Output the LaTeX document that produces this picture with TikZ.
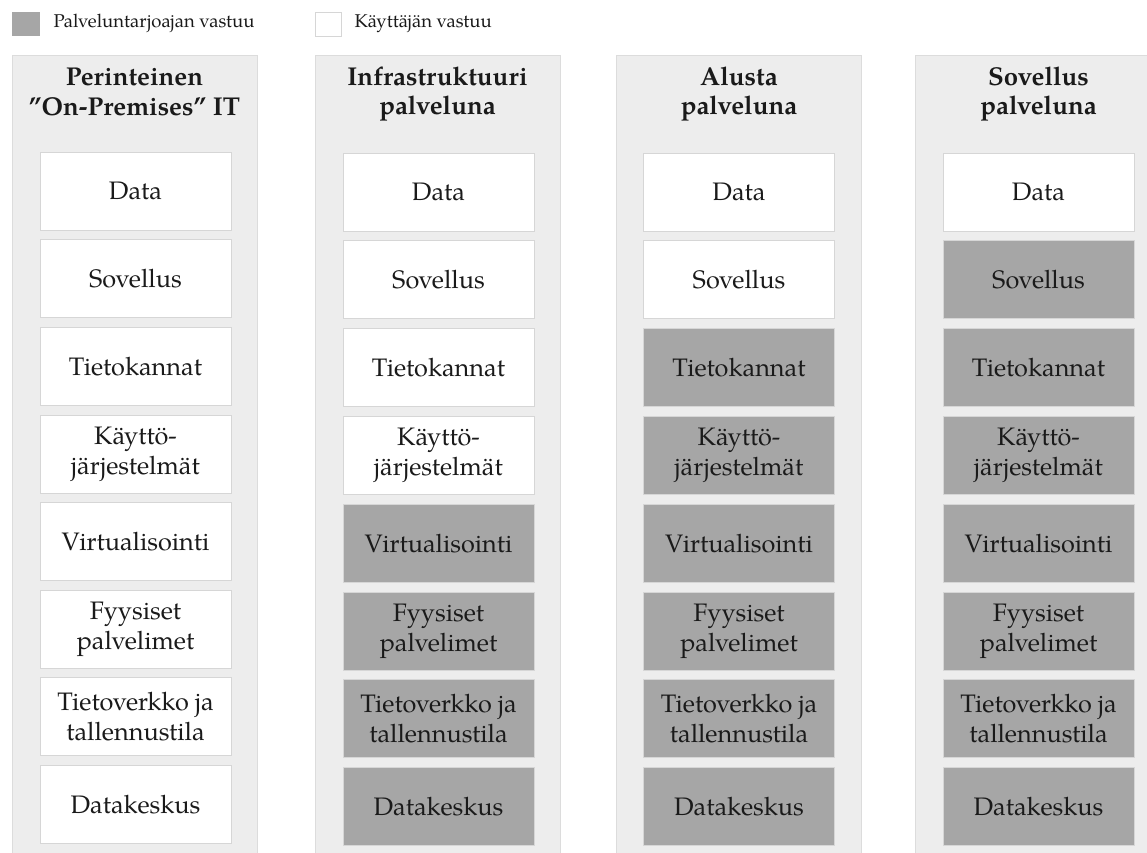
\documentclass[tikz,border=0pt]{standalone}
\usepackage{fontspec}
\setmainfont{TeX Gyre Pagella}
\definecolor{colfill}{HTML}{EDEDED}
\definecolor{colline}{HTML}{DCDCDC}
\definecolor{provider}{HTML}{A6A6A6}
\definecolor{boxline}{HTML}{D6D6D6}
\definecolor{ink}{HTML}{1A1A1A}
\tikzset{
  column/.style={draw=colline, fill=colfill, line width=0.8pt, anchor=north west,
    minimum width=245pt, minimum height=820pt, inner sep=0pt},
  layer/.style={draw=boxline, line width=0.8pt, minimum width=191pt, minimum height=78pt,
    inner sep=0pt, align=center, text=ink, font=\fontsize{25.3}{30}\selectfont},
  userbox/.style={layer, fill=white},
  provbox/.style={layer, fill=provider},
  heading/.style={align=center, text=ink, font=\fontsize{25.8}{29.5}\selectfont\bfseries},
  legendsq/.style={minimum width=28pt, minimum height=24pt, inner sep=0pt, anchor=north west},
  legendtext/.style={anchor=west, text=ink, font=\fontsize{18.5}{20}\selectfont},
}
\begin{document}
\begin{tikzpicture}[x=1pt,y=-1pt]
\useasboundingbox (0,0) rectangle (1147,852);
\fill[white] (0,0) rectangle (1147,852);

% legend
\node[legendsq, fill=provider] (legprov) at (12,12) {};
\node[legendtext] (legprovtxt) at (50,23.5) {Palveluntarjoajan vastuu};
\node[legendsq, fill=white, draw=boxline, line width=0.8pt, minimum width=26pt] (leguser) at (315,12) {};
\node[legendtext] (legusertxt) at (351,23.5) {Käyttäjän vastuu};

% column backgrounds
\node[column] (col1) at (12,55) {};
\node[column] (col2) at (315,55) {};
\node[column] (col3) at (616,55) {};
\node[column] (col4) at (915,55) {};

% headings
\node[heading] (head1) at (134.5,92) {Perinteinen\\”On-Premises” IT};
\node[heading] (head2) at (437.5,94) {Infrastruktuuri\\palveluna};
\node[heading] (head3) at (739,94) {Alusta\\palveluna};
\node[heading] (head4) at (1038.5,94) {Sovellus\\palveluna};

% stacks of layers: column, centre x, top centre y, pitch,
% first row for which the provider is responsible
\foreach \c/\cx/\cy/\dy/\p in {1/135.5/191/87.64/9, 2/438.5/192/87.8/5,
                               3/739/192/87.8/3, 4/1038.5/192/87.8/2}{
  \foreach \r/\txt in {1/Data, 2/Sovellus, 3/Tietokannat, 4/{Käyttö-\\järjestelmät},
      5/Virtualisointi, 6/{Fyysiset\\palvelimet}, 7/{Tietoverkko ja\\tallennustila}, 8/Datakeskus}{
    \pgfmathsetmacro{\ry}{\cy+\dy*(\r-1)}
    \ifnum\r<\p
      \node[userbox] (c\c r\r) at (\cx,\ry) {\txt};
    \else
      \node[provbox] (c\c r\r) at (\cx,\ry) {\txt};
    \fi
  }
}
\end{tikzpicture}
\end{document}
